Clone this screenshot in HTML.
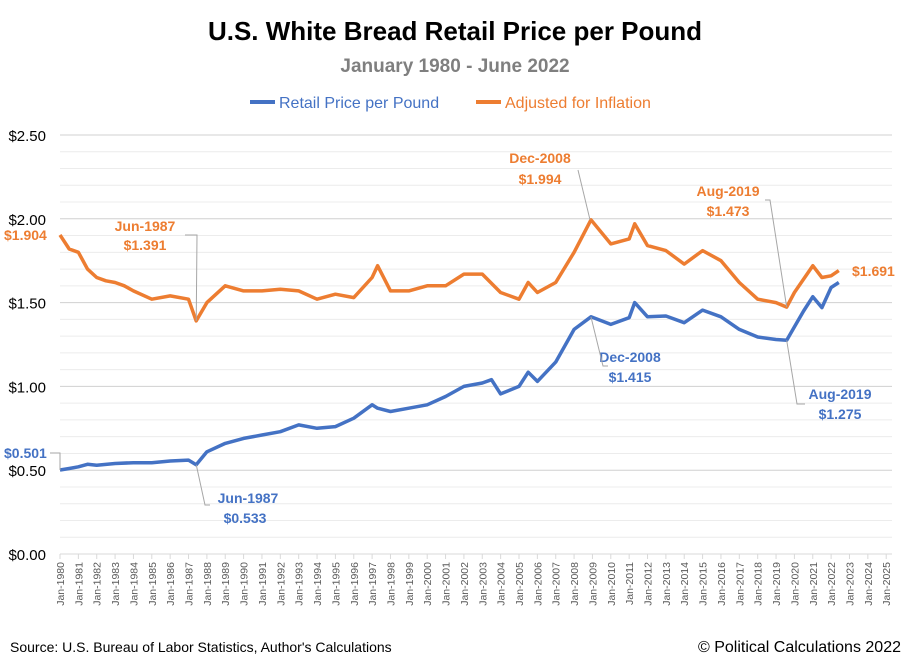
<!DOCTYPE html>
<html><head><meta charset="utf-8"><style>
body{margin:0;background:#fff;font-family:"Liberation Sans",sans-serif}
svg text{font-family:"Liberation Sans",sans-serif}
</style></head><body>
<svg id="chart" width="911" height="662" viewBox="0 0 911 662">
<text x="455" y="40" text-anchor="middle" font-size="26" font-weight="bold" fill="#000">U.S. White Bread Retail Price per Pound</text>
<text x="455" y="72" text-anchor="middle" font-size="19" font-weight="bold" fill="#7f7f7f">January 1980 - June 2022</text>
<g>
<line x1="250" y1="102" x2="275" y2="102" stroke="#4472c4" stroke-width="4"/>
<text x="279" y="108" font-size="16" fill="#4472c4">Retail Price per Pound</text>
<line x1="476" y1="102" x2="501" y2="102" stroke="#ed7d31" stroke-width="4"/>
<text x="505" y="108" font-size="16" fill="#ed7d31">Adjusted for Inflation</text>
</g>
<g id="grid"></g>
<g id="yaxis"></g>
<g id="xaxis"></g>
<g id="series"></g>
<g id="ann"></g>
<text x="10" y="652" font-size="14" fill="#000">Source: U.S. Bureau of Labor Statistics, Author's Calculations</text>
<text x="901" y="652" text-anchor="end" font-size="16" fill="#000">© Political Calculations 2022</text>
</svg>
<script>
const yTicks=[0,0.5,1,1.5,2,2.5];
const yTickLabels=["$0.00","$0.50","$1.00","$1.50","$2.00","$2.50"];
const xYears=[];for(let y=1980;y<=2025;y++)xYears.push(y);
const retailDates=[1980,1980.5,1981,1981.5,1982,1983,1984,1985,1986,1987,1987.42,1988,1989,1990,1991,1992,1993,1994,1995,1996,1997,1997.3,1998,1999,2000,2001,2002,2003,2003.5,2004,2005,2005.5,2006,2007,2008,2008.92,2010,2011,2011.3,2012,2013,2014,2015,2016,2017,2018,2019,2019.58,2020,2020.5,2021,2021.5,2022,2022.42];
const retailValues=[0.501,0.51,0.52,0.535,0.53,0.54,0.545,0.545,0.555,0.56,0.533,0.61,0.66,0.69,0.71,0.73,0.77,0.75,0.76,0.81,0.89,0.87,0.85,0.87,0.89,0.94,1.0,1.02,1.04,0.955,1.0,1.085,1.03,1.145,1.34,1.415,1.37,1.41,1.50,1.415,1.42,1.38,1.455,1.415,1.34,1.295,1.28,1.275,1.355,1.45,1.535,1.47,1.59,1.62];
const adjDates=[1980,1980.5,1981,1981.5,1982,1982.5,1983,1983.5,1984,1985,1986,1987,1987.42,1988,1989,1990,1991,1992,1993,1994,1995,1996,1997,1997.3,1998,1999,2000,2001,2002,2003,2004,2005,2005.5,2006,2007,2008,2008.92,2010,2011,2011.3,2012,2013,2014,2015,2016,2017,2018,2019,2019.58,2020,2021,2021.5,2022,2022.42];
const adjValues=[1.904,1.82,1.80,1.70,1.65,1.63,1.62,1.60,1.57,1.52,1.54,1.52,1.391,1.50,1.60,1.57,1.57,1.58,1.57,1.52,1.55,1.53,1.65,1.72,1.57,1.57,1.60,1.60,1.67,1.67,1.56,1.52,1.62,1.56,1.62,1.80,1.994,1.85,1.88,1.97,1.84,1.81,1.73,1.81,1.75,1.62,1.52,1.50,1.473,1.56,1.72,1.65,1.66,1.691];
const X=d=>60+(d-1980)*18.36;
const Y=v=>554-v*167.6;
const NS="http://www.w3.org/2000/svg";
function mk(tag,attrs,parent){const e=document.createElementNS(NS,tag);for(const k in attrs)e.setAttribute(k,attrs[k]);parent.appendChild(e);return e;}
const grid=document.getElementById('grid'),ya=document.getElementById('yaxis'),xa=document.getElementById('xaxis'),ser=document.getElementById('series');
for(let i=1;i<=25;i++){const v=i/10;const l=mk('line',{x1:60,x2:892,y1:Y(v),y2:Y(v),stroke:(i%5==0)?'#d0d0d0':'#ececec','stroke-width':1},grid);

}
mk('line',{x1:60,x2:892,y1:Y(0),y2:Y(0),stroke:'#d9d9d9'},xa);
yTicks.forEach((v,i)=>{const t=mk('text',{x:46,y:Y(v)+6,'text-anchor':'end','font-size':15,fill:'#000'},ya);t.textContent=yTickLabels[i];

});
xYears.forEach(y=>{mk('line',{x1:X(y),x2:X(y),y1:554,y2:559,stroke:'#d9d9d9'},xa);
const t=mk('text',{transform:`translate(${X(y)+4},${562}) rotate(-90)`,'text-anchor':'end','font-size':10.5,fill:'#595959'},xa);t.textContent='Jan-'+y;

});
function line(dates,vals,color,name){const d=dates.map((t,i)=>(i?'L':'M')+X(t).toFixed(1)+','+Y(vals[i]).toFixed(1)).join('');
const p=mk('path',{d:d,fill:'none',stroke:color,'stroke-width':3.5,'stroke-linejoin':'round'},ser);

}
line(adjDates,adjValues,'#ed7d31','adjusted-line');
line(retailDates,retailValues,'#4472c4','retail-line');
const ann=document.getElementById('ann');
function lab(x,y,txt,col,anchor){const t=mk('text',{x:x,y:y,'font-size':14,'font-weight':'bold',fill:col,'text-anchor':anchor||'middle'},ann);t.textContent=txt;

}
function lead(pts){mk('polyline',{points:pts,fill:'none',stroke:'#a6a6a6','stroke-width':1},ann);}
const O='#ed7d31',B='#4472c4';
lab(4,240,'$1.904',O,'start');
lab(4,458,'$0.501',B,'start');lead(`50,453 60,453 60,470`);
lab(145,231,'Jun-1987',O);lab(145,250,'$1.391',O);lead(`185,235 197,235 ${X(1987.42)},${Y(1.391)}`);
lab(248,503,'Jun-1987',B);lab(245,523,'$0.533',B);lead(`${X(1987.42)},${Y(0.533)} 205,505 210,505`);
lab(540,163,'Dec-2008',O);lab(540,184,'$1.994',O);lead(`578,170 590,${Y(1.994)}`);
lab(630,362,'Dec-2008',B);lab(630,382,'$1.415',B);lead(`${X(2008.92)},${Y(1.415)} 603,366 608,366`);
lab(728,196,'Aug-2019',O);lab(728,216,'$1.473',O);lead(`765,200 770,200 ${X(2019.58)},${Y(1.473)}`);
lab(840,399,'Aug-2019',B);lab(840,419,'$1.275',B);lead(`${X(2019.58)},${Y(1.275)} 797,404 805,404`);
lab(852,276,'$1.691',O,'start');
</script>
</body></html>
